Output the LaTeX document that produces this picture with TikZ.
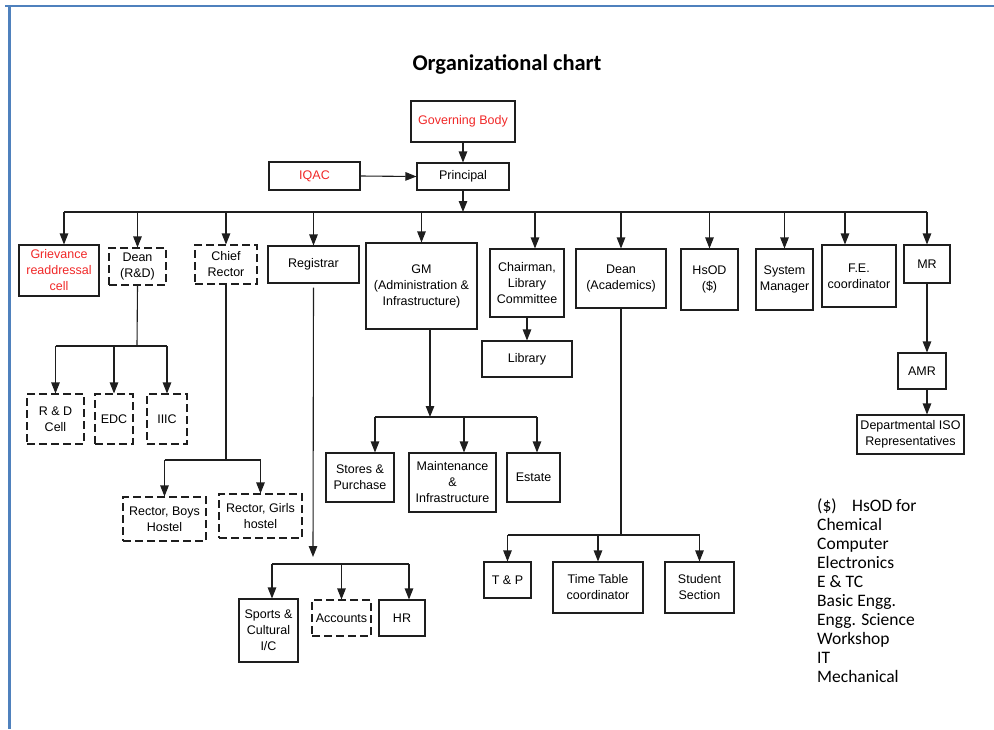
\documentclass[tikz,border=0pt]{standalone}
\usepackage{fontspec}
\setmainfont{Liberation Sans}
\newfontfamily\calfont{Carlito}
\usetikzlibrary{arrows.meta}
\definecolor{framecol}{RGB}{79,129,189}
\definecolor{redtxt}{RGB}{240,40,40}
\definecolor{linecol}{RGB}{30,30,30}
\tikzset{
 orgbox/.style={draw=linecol, line width=1.1pt, inner sep=0pt, align=center, font=\fontsize{12.5}{16}\selectfont, text=black},
 dashbox/.style={orgbox, dash pattern=on 8pt off 4pt},
 redbox/.style={orgbox, text=redtxt},
 conn/.style={draw=linecol, line width=1.1pt},
 arr/.style={conn, -{Triangle[length=11pt,width=8.5pt]}},
 legendtxt/.style={anchor=base west, inner sep=0pt, font=\calfont\fontsize{17.5}{19}\selectfont},
 frameline/.style={draw=framecol, line width=2.5pt},
}
\newcommand\orgnode[7]{\node[#2, minimum width={#5-#3}, minimum height={#6-#4}] (#1) at ({(#3+#5)/2},{(#4+#6)/2}) {#7};}
\begin{document}
\begin{tikzpicture}[x=1pt,y=-1pt]
\useasboundingbox (0,0) rectangle (994,729);
% frame
\draw[frameline] (5,6) -- (994,6);
\draw[frameline] (9.7,6) -- (9.7,729);
% title
\node[font=\calfont\bfseries\fontsize{22.5}{26}\selectfont, inner sep=0pt] (title) at (507,64) {Organizational chart};
% top
\orgnode{gov}{redbox}{411}{101}{515}{142}{Governing Body}
\orgnode{prin}{orgbox}{417}{163}{509}{190}{Principal}
\orgnode{iqac}{redbox}{269}{162}{360}{190}{IQAC}
% row 1
\orgnode{griev}{redbox}{19}{245}{99}{296}{Grievance\\readdressal\\cell}
\orgnode{deanrd}{dashbox}{109}{248}{166}{285}{Dean\\(R\&D)}
\orgnode{chief}{dashbox}{195}{245}{257}{284}{Chief\\Rector}
\orgnode{reg}{orgbox}{268}{246}{359}{283}{Registrar}
\orgnode{gm}{orgbox}{366}{243}{477}{329}{GM\\(Administration \&\\Infrastructure)}
\orgnode{chair}{orgbox}{490}{249}{564}{317}{Chairman,\\Library\\Committee}
\orgnode{lib}{orgbox}{482}{341}{572}{377}{Library}
\orgnode{deanac}{orgbox}{576}{249}{666}{308}{Dean\\(Academics)}
\orgnode{hsod}{orgbox}{681}{249}{738}{310}{HsOD\\(\$)}
\orgnode{sysm}{orgbox}{756}{249}{813}{310}{System\\Manager}
\orgnode{fe}{orgbox}{822}{245}{896}{307}{F.E.\\coordinator}
\orgnode{mr}{orgbox}{904}{245}{950}{283}{MR}
\orgnode{amr}{orgbox}{898}{353}{946}{389}{AMR}
\orgnode{iso}{orgbox}{857}{415}{964}{454}{Departmental ISO\\Representatives}
% lower
\orgnode{rdcell}{dashbox}{27}{394}{84}{444}{R \& D\\Cell}
\orgnode{edc}{dashbox}{95}{394}{133}{444}{EDC}
\orgnode{iiic}{dashbox}{147}{394}{187}{444}{IIIC}
\orgnode{boys}{dashbox}{123}{497}{206}{541}{Rector, Boys\\Hostel}
\orgnode{girls}{dashbox}{219}{494}{302}{538}{Rector, Girls\\hostel}
\orgnode{stores}{orgbox}{326}{453}{394}{502}{Stores \&\\Purchase}
\orgnode{maint}{orgbox}{409}{453}{496}{512}{Maintenance\\\&\\Infrastructure}
\orgnode{estate}{orgbox}{507}{453}{560}{502}{Estate}
\orgnode{sports}{orgbox}{239}{599}{298}{662}{Sports \&\\Cultural\\I/C}
\orgnode{acc}{dashbox}{312}{600}{371}{636}{Accounts}
\orgnode{hr}{orgbox}{379}{600}{425}{636}{HR}
\orgnode{tp}{orgbox}{484}{562}{531}{598}{T \& P}
\orgnode{tt}{orgbox}{553}{562}{643}{613}{Time Table\\coordinator}
\orgnode{stud}{orgbox}{665}{562}{734}{613}{Student\\Section}
% top connectors
\draw[arr] (gov.south) -- (prin.north);
\draw[arr] (iqac.east) -- (prin.west);
\coordinate (bus) at (463,212);
\coordinate (busL) at (64,212);
\draw[arr] (prin.south) -- (bus);
\draw[conn] (busL) -- (bus -| mr.north);
\draw[arr] (busL) -- (griev.north -| busL);
\foreach \n in {deanrd,chief,reg,gm,deanac,hsod,sysm,mr}{
  \draw[arr] (bus -| \n.north) -- (\n.north);
}
\coordinate (chairin) at ([xshift=8pt]chair.north);
\draw[arr] (bus -| chairin) -- (chairin);
\coordinate (fein) at ([xshift=-14pt]fe.north);
\draw[arr] (bus -| fein) -- (fein);
\draw[arr] (chair.south) -- (lib.north);
\draw[arr] (mr.south) -- (mr.south |- amr.north);
\draw[arr] (amr.south -| mr.south) -- (iso.north -| mr.south);
% Dean R&D subtree
\coordinate (rdbus) at (137,346);
\draw[conn] (deanrd.south) -- (rdbus);
\draw[conn] (rdbus -| rdcell.north) -- (rdbus -| iiic.north);
\foreach \n in {rdcell,edc,iiic}{
  \draw[arr] (rdbus -| \n.north) -- (\n.north);
}
% Chief rector subtree
\coordinate (crbus) at (226,460);
\draw[conn] (chief.south) -- (crbus);
\draw[conn] (crbus -| boys.north) -- (crbus -| girls.north);
\foreach \n in {boys,girls}{
  \draw[arr] (crbus -| \n.north) -- (\n.north);
}
% Registrar subtree
\coordinate (regend) at (313,557);
\coordinate (regbus) at (313,564);
\draw[arr] ([yshift=-4pt]reg.south) -- (regend);
\coordinate (sportsin) at ([xshift=3.5pt]sports.north);
\coordinate (hrin) at ([xshift=7pt]hr.north);
\draw[conn] (regbus -| sportsin) -- (regbus -| hrin);
\draw[arr] (regbus -| sportsin) -- (sportsin);
\draw[arr] (regbus -| acc.north) -- (acc.north);
\draw[arr] (regbus -| hrin) -- (hrin);
% GM subtree
\coordinate (gmout) at ([xshift=8.5pt]gm.south);
\coordinate (gmbus) at (430,417);
\draw[arr] (gmout) -- (gmbus);
\coordinate (storesin) at ([xshift=15pt]stores.north);
\coordinate (maintin) at ([xshift=11.5pt]maint.north);
\coordinate (estatein) at ([xshift=3.5pt]estate.north);
\draw[conn] (gmbus -| storesin) -- (gmbus -| estatein);
\draw[arr] (gmbus -| storesin) -- (storesin);
\draw[arr] (gmbus -| maintin) -- (maintin);
\draw[arr] (gmbus -| estatein) -- (estatein);
% Dean academics subtree
\coordinate (dabus) at (621,535);
\draw[conn] (deanac.south) -- (dabus);
\draw[conn] (dabus -| tp.north) -- (dabus -| stud.north);
\foreach \n in {tp,tt,stud}{
  \draw[arr] (dabus -| \n.north) -- (\n.north);
}
% legend
\node[legendtxt] (leg1) at (817,511) {(\$)\hspace{15.5pt}HsOD for};
\node[legendtxt] (leg2) at (817,530) {Chemical};
\node[legendtxt] (leg3) at (817,549) {Computer};
\node[legendtxt] (leg4) at (817,568) {Electronics};
\node[legendtxt] (leg5) at (817,587) {E \& TC};
\node[legendtxt] (leg6) at (817,606) {Basic Engg.};
\node[legendtxt] (leg7) at (817,625) {Engg. Science};
\node[legendtxt] (leg8) at (817,644) {Workshop};
\node[legendtxt] (leg9) at (817,663) {IT};
\node[legendtxt] (leg10) at (817,682) {Mechanical};
\end{tikzpicture}
\end{document}
